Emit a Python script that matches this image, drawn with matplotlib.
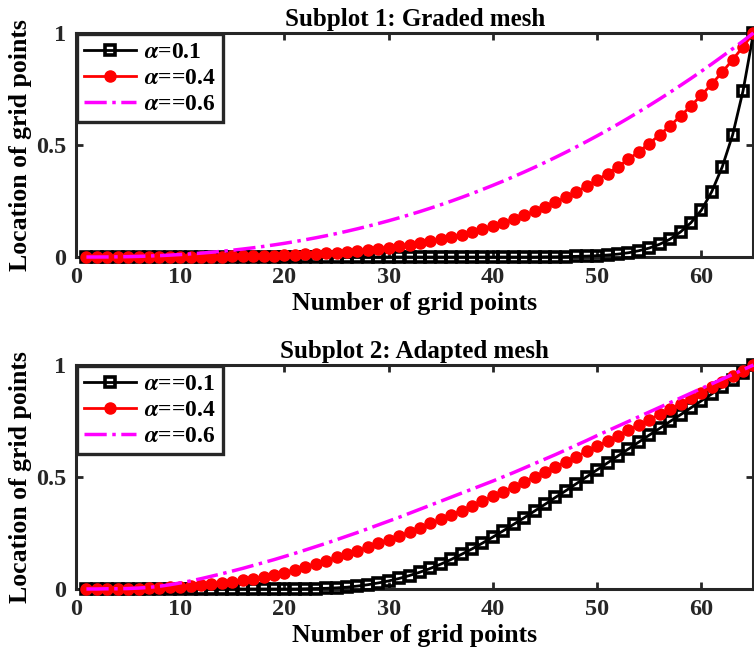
import matplotlib
matplotlib.use("Agg")
import matplotlib.pyplot as plt
import numpy as np

plt.rcParams["font.family"] = ["Liberation Serif", "DejaVu Serif"]
plt.rcParams["font.weight"] = "bold"
plt.rcParams["mathtext.fontset"] = "stix"

# grid point index 1..65
grid_idx = list(range(1, 66))

# Subplot 1: graded mesh
graded_a01 = [0.0] * 44 + [
    0.001, 0.001, 0.002, 0.003, 0.004, 0.006, 0.009, 0.013, 0.019, 0.028,
    0.040, 0.057, 0.080, 0.112, 0.153, 0.209, 0.292, 0.402, 0.545, 0.742, 1.0]
graded_a04 = [
    0.0, 0.0, 0.0, 0.0, 0.0, 0.0, 0.0001, 0.0001, 0.0002, 0.0004,
    0.0006, 0.0009, 0.0012, 0.0017, 0.0023, 0.003, 0.0039, 0.005, 0.0063, 0.0078,
    0.0095, 0.0116, 0.014, 0.0167, 0.0198, 0.0233, 0.0272, 0.0317, 0.0366, 0.0422,
    0.0483, 0.055, 0.0625, 0.0707, 0.0797, 0.0894, 0.1001, 0.1117, 0.1243, 0.1379,
    0.1526, 0.1684, 0.1855, 0.2038, 0.2234, 0.2444, 0.2669, 0.2909, 0.3164, 0.3436,
    0.3725, 0.4032, 0.4358, 0.4703, 0.5068, 0.5454, 0.5862, 0.6292, 0.6745, 0.7222,
    0.7725, 0.8253, 0.8807, 0.939, 1.0]
graded_a06 = [
    0.0, 0.0001, 0.0003, 0.0009, 0.0017, 0.0028, 0.0043, 0.0062, 0.0084, 0.011,
    0.014, 0.0174, 0.0213, 0.0256, 0.0303, 0.0356, 0.0412, 0.0474, 0.0541, 0.0612,
    0.0689, 0.0771, 0.0858, 0.095, 0.1048, 0.1151, 0.126, 0.1374, 0.1494, 0.1619,
    0.175, 0.1888, 0.203, 0.218, 0.2334, 0.2495, 0.2662, 0.2835, 0.3015, 0.3201,
    0.3392, 0.3591, 0.3795, 0.4006, 0.4224, 0.4448, 0.4678, 0.4916, 0.516, 0.541,
    0.5667, 0.5931, 0.6202, 0.6481, 0.6765, 0.7056, 0.7356, 0.7662, 0.7973, 0.8293,
    0.8619, 0.8955, 0.9295, 0.9643, 1.0]

# Subplot 2: adapted mesh
adapted_a01 = [0.0] * 21 + [
    0.001, 0.002, 0.003, 0.005, 0.008, 0.013, 0.019, 0.027, 0.036, 0.047,
    0.060, 0.075, 0.092, 0.111, 0.132, 0.155, 0.179, 0.205, 0.232, 0.260,
    0.289, 0.318, 0.348, 0.378, 0.409, 0.439, 0.470, 0.501, 0.532, 0.563,
    0.594, 0.625, 0.656, 0.687, 0.717, 0.748, 0.778, 0.809, 0.840, 0.871,
    0.902, 0.934, 0.966, 1.0]
adapted_a04 = [
    0.0, 0.0, 0.0, 0.001, 0.001, 0.002, 0.003, 0.005, 0.007, 0.010,
    0.013, 0.017, 0.021, 0.026, 0.032, 0.039, 0.046, 0.054, 0.063, 0.073,
    0.085, 0.099, 0.112, 0.127, 0.141, 0.155, 0.171, 0.186, 0.204, 0.219,
    0.237, 0.254, 0.272, 0.293, 0.311, 0.330, 0.350, 0.372, 0.393, 0.415,
    0.434, 0.457, 0.479, 0.501, 0.523, 0.545, 0.568, 0.591, 0.614, 0.637,
    0.660, 0.684, 0.708, 0.732, 0.756, 0.780, 0.804, 0.828, 0.852, 0.877,
    0.901, 0.926, 0.951, 0.975, 1.0]
adapted_a06 = [
    0.0, 0.0, 0.001, 0.001, 0.002, 0.004, 0.007, 0.012, 0.019, 0.027,
    0.036, 0.046, 0.057, 0.068, 0.080, 0.092, 0.105, 0.118, 0.131, 0.145,
    0.159, 0.174, 0.189, 0.204, 0.220, 0.236, 0.252, 0.269, 0.286, 0.303,
    0.320, 0.338, 0.356, 0.374, 0.392, 0.410, 0.428, 0.446, 0.464, 0.482,
    0.501, 0.520, 0.540, 0.560, 0.580, 0.600, 0.621, 0.642, 0.663, 0.685,
    0.706, 0.727, 0.748, 0.769, 0.790, 0.811, 0.832, 0.853, 0.874, 0.895,
    0.916, 0.937, 0.958, 0.979, 1.0]

panels = [
    ("Subplot 1: Graded mesh", [graded_a01, graded_a04, graded_a06],
     [r"$\alpha$=0.1", r"$\alpha$==0.4", r"$\alpha$==0.6"]),
    ("Subplot 2: Adapted mesh", [adapted_a01, adapted_a04, adapted_a06],
     [r"$\alpha$==0.1", r"$\alpha$==0.4", r"$\alpha$==0.6"]),
]

fig = plt.figure(figsize=(7.54, 6.58), dpi=100)
rects = [[0.1008, 0.6094, 0.8985, 0.3404], [0.1008, 0.1049, 0.8985, 0.3404]]

for rect, (title, series, labels) in zip(rects, panels):
    ax = fig.add_axes(rect)
    ax.plot(grid_idx, series[0], "-", color="black", lw=2, marker="s", ms=7,
            mfc="none", mec="black", mew=2.6, label=labels[0], clip_on=False, zorder=3)
    ax.plot(grid_idx, series[1], "-", color="red", lw=2, marker="o", ms=8,
            mfc="red", mec="red", label=labels[1], clip_on=False, zorder=4)
    ax.plot(grid_idx, series[2], "-.", color="magenta", lw=2.5,
            label=labels[2], clip_on=False, zorder=5)
    ax.set_xlim(0, 65)
    ax.set_ylim(0, 1)
    ax.set_xticks([0, 10, 20, 30, 40, 50, 60])
    ax.set_yticks([0, 0.5, 1])
    ax.set_yticklabels(["0", "0.5", "1"])
    ax.tick_params(direction="in", top=True, right=True, length=5, width=2,
                   labelsize=17.5, pad=7, colors="#262626", labelcolor="#262626")
    for s in ax.spines.values():
        s.set_linewidth(2.2)
        s.set_color("#262626")
    ax.set_title(title, fontsize=18, fontweight="bold", pad=5)
    ax.set_xlabel("Number of grid points", fontsize=18.5, fontweight="bold", labelpad=3)
    ax.set_ylabel("Location of grid points", fontsize=18.5, fontweight="bold", labelpad=3)
    leg = ax.legend(loc="upper left", fontsize=17, frameon=True, fancybox=False,
                    borderaxespad=0.05, handlelength=2.2, handletextpad=0.35,
                    labelspacing=0.2, borderpad=0.3, framealpha=1)
    leg.get_frame().set_edgecolor("#262626")
    leg.get_frame().set_linewidth(2.4)
    leg.set_zorder(10)

fig.savefig("out.png", dpi=100)
